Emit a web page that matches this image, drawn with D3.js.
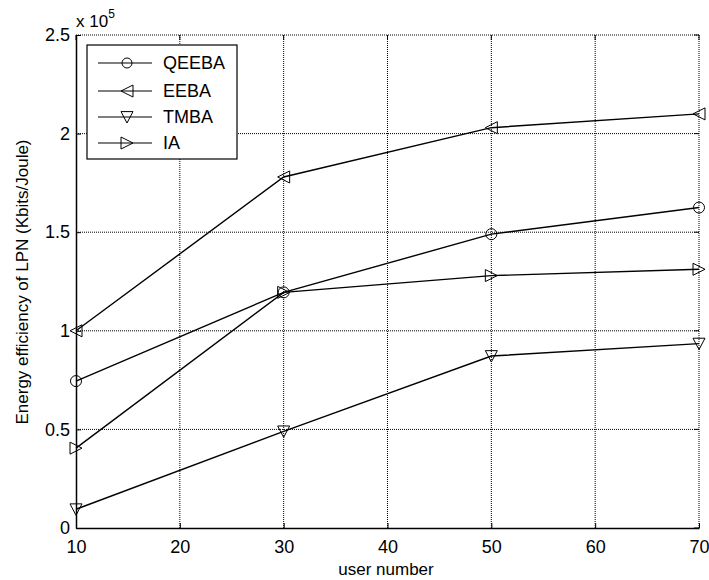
<!DOCTYPE html>
<html>
<head>
<meta charset="utf-8">
<script src="https://cdn.jsdelivr.net/npm/d3@7"></script>
<style>
  body { margin: 0; background: #fff; }
  text { font-family: "Liberation Sans", Arial, sans-serif; fill: #000; }
</style>
</head>
<body>
<div id="wrapper"></div>
<script>
const users = [10, 30, 50, 70]
const qeeba = [0.745, 1.195, 1.49, 1.625]
const eeba = [1.0, 1.78, 2.03, 2.10]
const tmba = [0.095, 0.49, 0.872, 0.935]
const ia = [0.405, 1.195, 1.28, 1.312]
const seriesNames = ["QEEBA", "EEBA", "TMBA", "IA"]
const seriesMarkers = ["circle", "left", "down", "right"]
const xTicks = [10, 20, 30, 40, 50, 60, 70]
const yTicks = [0, 0.5, 1, 1.5, 2, 2.5]

function drawChart() {
  let dimensions = {
    width: 709,
    height: 580,
    margin: { top: 35, right: 10, bottom: 52, left: 76 }
  }
  dimensions.boundedWidth = 699 - dimensions.margin.left
  dimensions.boundedHeight = 528 - dimensions.margin.top

  const wrapper = d3.select("#wrapper")
    .append("svg")
      .attr("width", dimensions.width)
      .attr("height", dimensions.height)

  const bounds = wrapper.append("g")
    .attr("transform", `translate(${dimensions.margin.left},${dimensions.margin.top})`)

  const xScale = d3.scaleLinear()
    .domain([10, 70])
    .range([0, dimensions.boundedWidth])
  const yScale = d3.scaleLinear()
    .domain([0, 2.5])
    .range([dimensions.boundedHeight, 0])

  // grid
  const grid = bounds.append("g")
    .attr("stroke", "#000")
    .attr("stroke-width", 1)
    .attr("stroke-dasharray", "1,1")
  grid.selectAll(".gx").data(xTicks.slice(1)).join("line")
    .attr("x1", d => xScale(d)).attr("x2", d => xScale(d))
    .attr("y1", 0).attr("y2", dimensions.boundedHeight)
  grid.selectAll(".gy").data(yTicks.slice(1)).join("line")
    .attr("x1", 0).attr("x2", dimensions.boundedWidth)
    .attr("y1", d => yScale(d)).attr("y2", d => yScale(d))

  // top / right ticks
  const ticks = bounds.append("g").attr("stroke", "#000")
  ticks.selectAll(".tt").data(xTicks).join("line")
    .attr("x1", d => xScale(d)).attr("x2", d => xScale(d))
    .attr("y1", 0).attr("y2", 5)
  ticks.selectAll(".tr").data(yTicks).join("line")
    .attr("x1", dimensions.boundedWidth).attr("x2", dimensions.boundedWidth - 5)
    .attr("y1", d => yScale(d)).attr("y2", d => yScale(d))

  const xAxisGenerator = d3.axisBottom(xScale)
    .tickValues(xTicks)
    .tickSizeInner(-5)
    .tickSizeOuter(0)
    .tickPadding(12)
  const xAxis = bounds.append("g")
    .attr("transform", `translate(0,${dimensions.boundedHeight})`)
    .call(xAxisGenerator)
  xAxis.selectAll("text").style("font-size", "18px")

  const yAxisGenerator = d3.axisLeft(yScale)
    .tickValues(yTicks)
    .tickFormat(d => d3.format("~g")(d))
    .tickSizeInner(-5)
    .tickSizeOuter(0)
    .tickPadding(6)
  const yAxis = bounds.append("g")
    .call(yAxisGenerator)
  yAxis.selectAll("text").style("font-size", "18px")
  bounds.selectAll(".domain").attr("stroke", "#000").attr("stroke-width", 1.5)
  bounds.selectAll(".tick line").attr("stroke", "#000")

  // series
  const allSeries = [qeeba, eeba, tmba, ia]
  const line = d3.line()
    .x((d, i) => xScale(users[i]))
    .y(d => yScale(d))

  const markerPath = (type, s) => {
    if (type === "circle") return d3.symbol(d3.symbolCircle, Math.PI * s * s)()
    const h = s
    if (type === "left") return `M${-h},0L${h},${-h}L${h},${h}Z`
    if (type === "right") return `M${h},0L${-h},${-h}L${-h},${h}Z`
    if (type === "down") return `M0,${h}L${-h},${-h * 0.9}L${h},${-h * 0.9}Z`
  }

  allSeries.forEach((values, k) => {
    bounds.append("path")
      .datum(values)
      .attr("fill", "none")
      .attr("stroke", "#000")
      .attr("stroke-width", 1.4)
      .attr("d", line)
    bounds.selectAll(`.m${k}`).data(values).join("path")
      .attr("transform", (d, i) => `translate(${xScale(users[i])},${yScale(d)})`)
      .attr("d", markerPath(seriesMarkers[k], seriesMarkers[k] === "circle" ? 5.5 : 6))
      .attr("fill", "none")
      .attr("stroke", "#000")
      .attr("stroke-width", 1)
  })

  // legend
  const legend = wrapper.append("g")
  legend.append("rect")
    .attr("x", 87).attr("y", 45)
    .attr("width", 150).attr("height", 114)
    .attr("fill", "#fff")
    .attr("stroke", "#000")
    .attr("stroke-width", 1.2)
  const legendY = [63, 91, 117, 143]
  seriesNames.forEach((name, k) => {
    const g = legend.append("g").attr("transform", `translate(0,${legendY[k]})`)
    g.append("line")
      .attr("x1", 98).attr("x2", 152)
      .attr("stroke", "#000").attr("stroke-width", 1.2)
    g.append("path")
      .attr("transform", "translate(127,0)")
      .attr("d", markerPath(seriesMarkers[k], seriesMarkers[k] === "circle" ? 5 : 6))
      .attr("fill", "none").attr("stroke", "#000")
    g.append("text")
      .attr("x", 163).attr("y", 0)
      .attr("dy", "0.36em")
      .style("font-size", "18px")
      .text(name)
  })

  // labels
  const mult = wrapper.append("text")
    .attr("x", 76).attr("y", 27)
    .style("font-size", "17px")
  mult.append("tspan").text("x 10")
  mult.append("tspan").attr("dy", -9).style("font-size", "12px").text("5")

  wrapper.append("text")
    .attr("x", 386).attr("y", 575)
    .attr("text-anchor", "middle")
    .style("font-size", "17px")
    .text("user number")

  wrapper.append("text")
    .attr("transform", "translate(28,282) rotate(-90)")
    .attr("text-anchor", "middle")
    .style("font-size", "17px")
    .text("Energy efficiency of LPN (Kbits/Joule)")
}

drawChart()
</script>
</body>
</html>
